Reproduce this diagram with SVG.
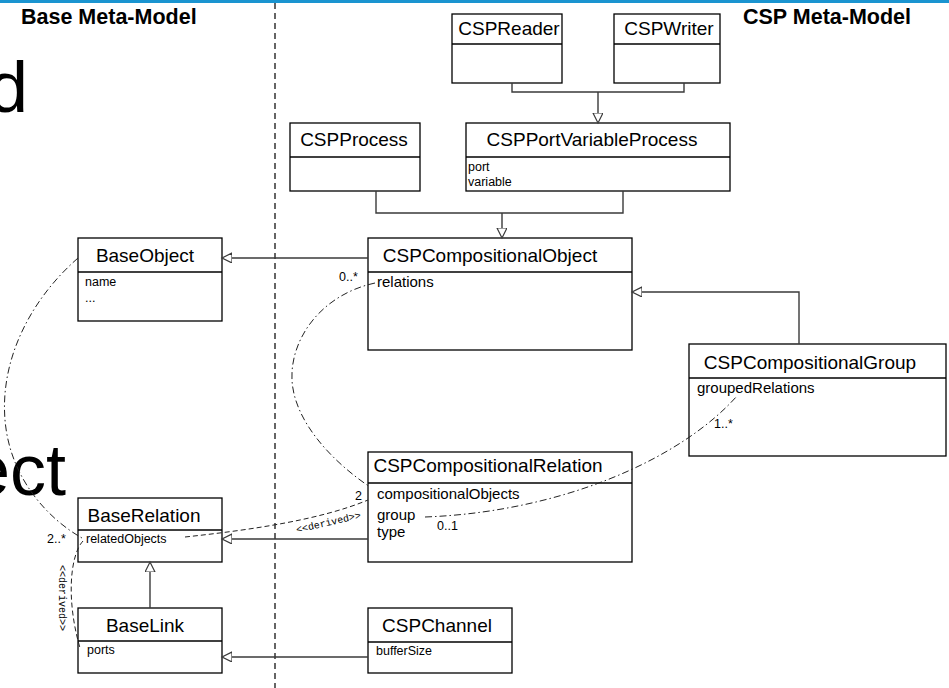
<svg xmlns="http://www.w3.org/2000/svg" width="949" height="688" viewBox="0 0 949 688">
  <style>
    text { font-family: "Liberation Sans", Arial, sans-serif; fill: #000; }
    .box { fill: #fff; stroke: #000; stroke-width: 1.3; }
    .sep { stroke: #000; stroke-width: 1.3; }
    .title { font-size: 19px; text-anchor: middle; }
    .attr { font-size: 15px; }
    .sattr { font-size: 12.5px; }
    .hdr { font-size: 21.5px; font-weight: bold; }
    .big { font-size: 72px; }
    .mult { font-size: 12.5px; }
    .stereo { font-family: "Liberation Mono", "Courier New", monospace; font-size: 10px; }
    .conn { fill: none; stroke: #3a3a3a; stroke-width: 1.4; }
    .dashdot { fill: none; stroke: #222; stroke-width: 1; stroke-dasharray: 7 3 1.5 3; }
    .dash { fill: none; stroke: #222; stroke-width: 1; stroke-dasharray: 5 3; }
    .divider { fill: none; stroke: #000; stroke-width: 1.2; stroke-dasharray: 6 4; }
  </style>
  <defs>
    <marker id="gen" markerUnits="userSpaceOnUse" markerWidth="12" markerHeight="12" refX="10" refY="5" orient="auto">
      <path d="M0,0 L10,5 L0,10 Z" fill="#fff" stroke="#3a3a3a" stroke-width="1.2"/>
    </marker>
  </defs>

  <!-- background slide -->
  <rect x="0" y="0" width="949" height="688" fill="#fff"/>
  <rect x="0" y="0" width="949" height="3" fill="#1a94d0"/>
  <text class="big" x="-12" y="112">d</text>
  <text class="big" x="66" y="495" text-anchor="end">ect</text>
  <line class="divider" x1="275" y1="3" x2="275" y2="688"/>
  <text class="hdr" x="21" y="24">Base Meta-Model</text>
  <text class="hdr" x="743" y="24">CSP Meta-Model</text>

  <!-- classes -->
  <g id="CSPReader">
    <rect class="box" x="452" y="14" width="110" height="69"/>
    <line class="sep" x1="452" y1="44" x2="562" y2="44"/>
    <text class="title" x="509" y="35">CSPReader</text>
  </g>
  <g id="CSPWriter">
    <rect class="box" x="614" y="14" width="106" height="69"/>
    <line class="sep" x1="614" y1="44" x2="720" y2="44"/>
    <text class="title" x="669" y="35">CSPWriter</text>
  </g>
  <g id="CSPProcess">
    <rect class="box" x="290" y="123" width="130" height="68"/>
    <line class="sep" x1="290" y1="157" x2="420" y2="157"/>
    <text class="title" x="354" y="146">CSPProcess</text>
  </g>
  <g id="CSPPortVariableProcess">
    <rect class="box" x="466" y="123" width="264" height="68"/>
    <line class="sep" x1="466" y1="157" x2="730" y2="157"/>
    <text class="title" x="592" y="146">CSPPortVariableProcess</text>
    <text class="sattr" x="468" y="171">port</text>
    <text class="sattr" x="468" y="186">variable</text>
  </g>
  <g id="BaseObject">
    <rect class="box" x="78" y="238" width="144" height="83"/>
    <line class="sep" x1="78" y1="272" x2="222" y2="272"/>
    <text class="title" x="145" y="262">BaseObject</text>
    <text class="sattr" x="85" y="286">name</text>
    <text class="sattr" x="85" y="302">...</text>
  </g>
  <g id="CSPCompositionalObject">
    <rect class="box" x="368" y="238" width="264" height="112"/>
    <line class="sep" x1="368" y1="272" x2="632" y2="272"/>
    <text class="title" x="490" y="262">CSPCompositionalObject</text>
    <text class="attr" x="377" y="287">relations</text>
  </g>
  <g id="CSPCompositionalGroup">
    <rect class="box" x="689" y="344" width="257" height="112"/>
    <line class="sep" x1="689" y1="378" x2="946" y2="378"/>
    <text class="title" x="810" y="369">CSPCompositionalGroup</text>
    <text class="attr" x="697" y="393">groupedRelations</text>
  </g>
  <g id="CSPCompositionalRelation">
    <rect class="box" x="368" y="452" width="264" height="110"/>
    <line class="sep" x1="368" y1="483" x2="632" y2="483"/>
    <text class="title" x="488" y="472">CSPCompositionalRelation</text>
    <text class="attr" x="377" y="499">compositionalObjects</text>
    <text class="attr" x="377" y="520">group</text>
    <text class="attr" x="377" y="537">type</text>
  </g>
  <g id="BaseRelation">
    <rect class="box" x="78" y="498" width="144" height="64"/>
    <line class="sep" x1="78" y1="530" x2="222" y2="530"/>
    <text class="title" x="144" y="522">BaseRelation</text>
    <text class="sattr" x="86" y="543">relatedObjects</text>
  </g>
  <g id="BaseLink">
    <rect class="box" x="78" y="608" width="144" height="65"/>
    <line class="sep" x1="78" y1="641" x2="222" y2="641"/>
    <text class="title" x="145" y="632">BaseLink</text>
    <text class="sattr" x="87" y="654">ports</text>
  </g>
  <g id="CSPChannel">
    <rect class="box" x="368" y="608" width="144" height="65"/>
    <line class="sep" x1="368" y1="642" x2="512" y2="642"/>
    <text class="title" x="437" y="632">CSPChannel</text>
    <text class="sattr" x="376" y="655">bufferSize</text>
  </g>

  <!-- connectors, drawn over the class boxes -->
  <g id="connectors">
    <path class="conn" d="M512,83 V92 H684 V83 M598,92 V123" marker-end="url(#gen)"/>
    <path class="conn" d="M376,191 V213 H623 V191 M502,213 V238" marker-end="url(#gen)"/>
    <path class="conn" d="M368,258 H222" marker-end="url(#gen)"/>
    <path class="conn" d="M799,344 V292 H632" marker-end="url(#gen)"/>
    <path class="conn" d="M368,539 H222" marker-end="url(#gen)"/>
    <path class="conn" d="M150,608 V562" marker-end="url(#gen)"/>
    <path class="conn" d="M368,657 H222" marker-end="url(#gen)"/>

    <path class="dashdot" d="M78,258 C30,300 0,360 5,420 C10,480 50,520 82,538"/>
    <path class="dashdot" d="M375,283 C320,295 290,340 292,380 C294,420 330,460 370,487"/>
    <path class="dashdot" d="M425,517 C560,512 680,460 737,396"/>
    <path class="dash" d="M185,537 C250,530 320,520 368,500"/>
    <path class="dash" d="M83,541 C70,555 66,600 80,648"/>

    <text class="stereo" transform="translate(297,533) rotate(-13)">&lt;&lt;derived&gt;&gt;</text>
    <text class="stereo" transform="translate(59,565) rotate(90)">&lt;&lt;derived&gt;&gt;</text>

    <text class="mult" x="339" y="281">0..*</text>
    <text class="mult" x="714" y="428">1..*</text>
    <text class="mult" x="355" y="500">2</text>
    <text class="mult" x="437" y="530">0..1</text>
    <text class="mult" x="47" y="543">2..*</text>
  </g>
</svg>
